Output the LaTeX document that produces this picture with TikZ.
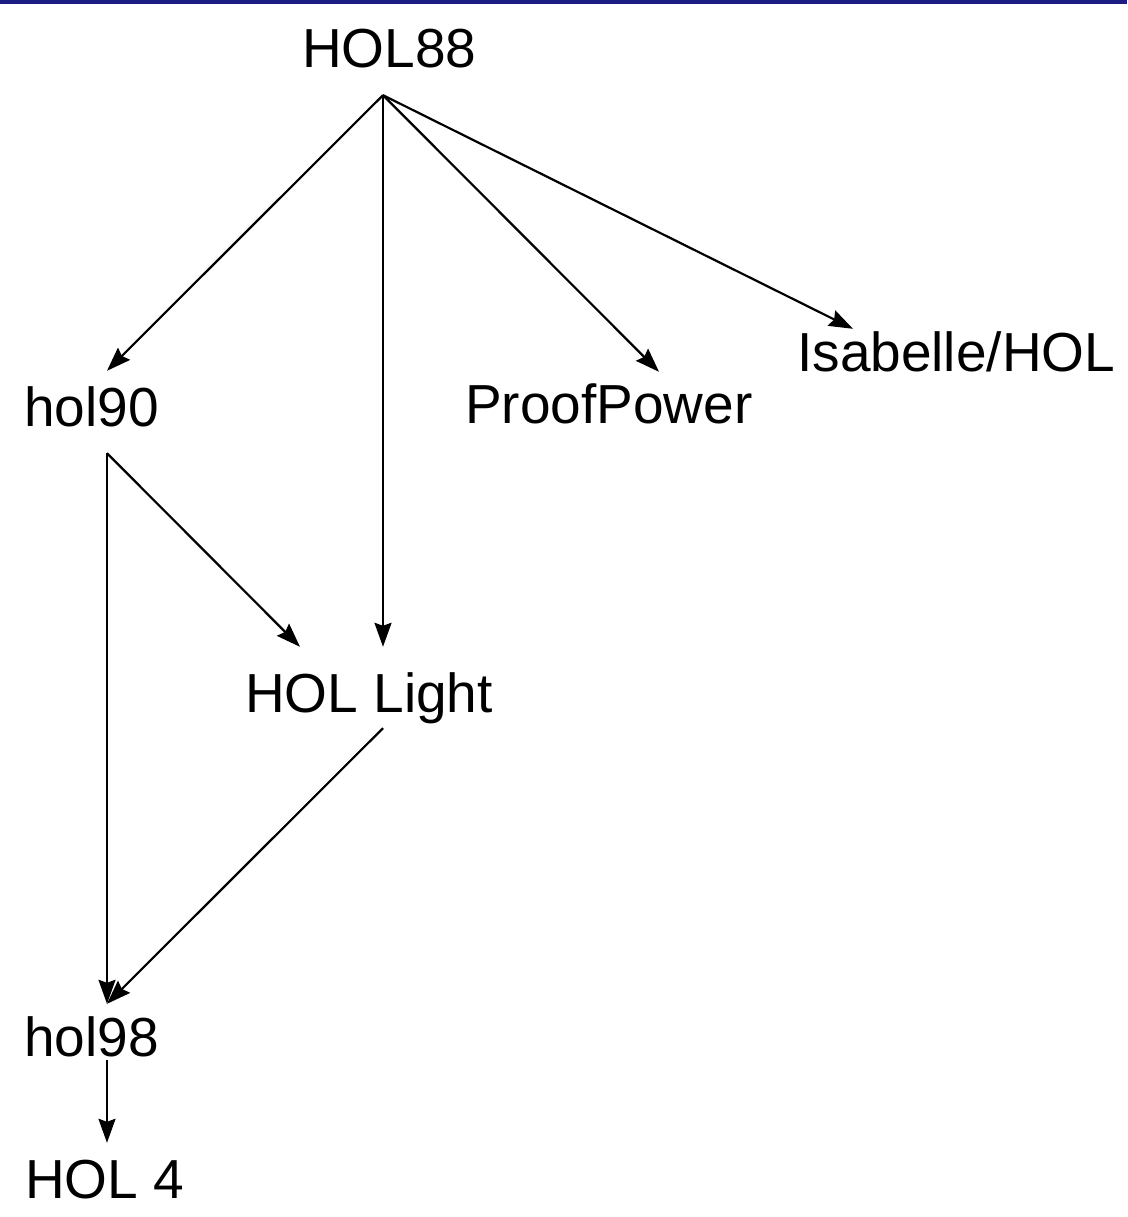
\documentclass[tikz,border=0pt]{standalone}
\usepackage{fontspec}
\setmainfont{Liberation Sans}
\usepackage{tikz}
\usetikzlibrary{arrows.meta}
\usepackage{xcolor}
\definecolor{ColRule}{RGB}{28,28,130}
\tikzstyle{NodeSys}=[anchor=base west,inner sep=0pt,text height=40pt,text depth=0pt,
font=\fontsize{55}{66}\selectfont]
\tikzstyle{EdgeSys}=[line width=2.2pt,-{Stealth[length=24pt,width=17pt,inset=3pt]}]
\begin{document}
\begin{tikzpicture}[x=1pt,y=-1pt]
        \useasboundingbox(0,0)rectangle(1127,1217);
        \fill[ColRule](0,0)rectangle(1127,4);
        \node[NodeSys](hol88)at(302,68){HOL88};
        \node[NodeSys](hol90)at(24,426){hol90};
        \node[NodeSys](proofpower)at(465,423){ProofPower};
        \node[NodeSys](isabelle)at(797,371){Isabelle/HOL};
        \node[NodeSys](hollight)at(245,712){HOL Light};
        \node[NodeSys](hol98)at(24,1056){hol98};
        \node[NodeSys](hol4)at(25,1198){HOL 4};
        \draw[EdgeSys]([shift={(81,27)}]hol88.south west)--([shift={(83,-15)}]hol90.north west);
        \draw[EdgeSys]([shift={(81,27)}]hol88.south west)--([shift={(138,-25)}]hollight.north west);
        \draw[EdgeSys]([shift={(81,27)}]hol88.south west)--([shift={(194,-11)}]proofpower.north west);
        \draw[EdgeSys]([shift={(81,27)}]hol88.south west)--([shift={(56,-2)}]isabelle.north west);
        \draw[EdgeSys]([shift={(83,27)}]hol90.south west)--([shift={(55,-25)}]hollight.north west);
        \draw[EdgeSys]([shift={(83,27)}]hol90.south west)--([shift={(83,-12)}]hol98.north west);
        \draw[EdgeSys]([shift={(138,16)}]hollight.south west)--([shift={(83,-12)}]hol98.north west);
        \draw[EdgeSys]([shift={(83,4)}]hol98.south west)--([shift={(82,-15)}]hol4.north west);
    \end{tikzpicture}
\end{document}
